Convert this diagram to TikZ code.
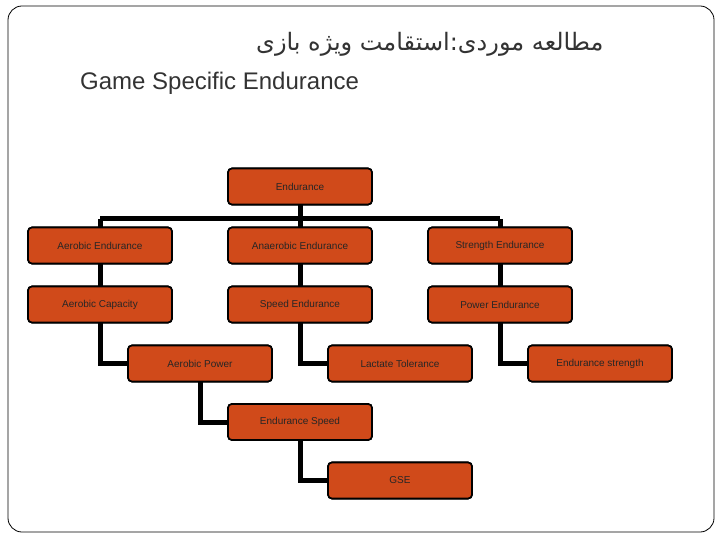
\documentclass[tikz,border=0pt]{standalone}
\usepackage{fontspec}
\setmainfont{Liberation Sans}
\newfontfamily\arabicfont[Script=Arabic]{DejaVu Sans}
\TeXXeTstate=1
\definecolor{boxfill}{HTML}{D04A1A}
\definecolor{titlec}{HTML}{333333}
\begin{document}
\begin{tikzpicture}[x=1pt,y=-1pt,
  bx/.style={draw=black,line width=1.6pt,fill=boxfill,rounded corners=4pt,minimum width=144pt,minimum height=36pt,inner sep=0pt,font=\fontsize{10}{12}\selectfont,text=black!85},
  ln/.style={line width=5pt}]
\useasboundingbox (0,0) rectangle (720,540);
\draw[line width=0.8pt,rounded corners=14pt] (8,6) rectangle (714,532);
\node[anchor=east,text=titlec,font=\arabicfont\fontsize{24}{28}\selectfont] (t1) at (607,44) {\beginR مطالعه موردی:استقامت ویژه بازی\endR};
\node[anchor=west,text=titlec,font=\fontsize{24}{28}\selectfont,inner sep=0pt] (t2) at (80,83) {Game Specific Endurance};
\coordinate (bar) at (300,219);
\coordinate (barl) at (100,219);
\coordinate (barr) at (500,219);
\node[bx] (e) at (300,186.5) {Endurance};
\node[bx] (ae) at (100,245.5) {Aerobic Endurance};
\node[bx] (an) at (300,245.5) {Anaerobic Endurance};
\node[bx] (se) at (500,245.5) {Strength Endurance};
\node[bx] (ac) at (100,304.5) {Aerobic Capacity};
\node[bx] (sp) at (300,304.5) {Speed Endurance};
\node[bx] (pe) at (500,304.5) {Power Endurance};
\node[bx] (ap) at (200,363.5) {Aerobic Power};
\node[bx] (lt) at (400,363.5) {Lactate Tolerance};
\node[bx] (es) at (600,363.5) {Endurance strength};
\node[bx] (spd) at (300,422) {Endurance Speed};
\node[bx] (gse) at (400,480.5) {GSE};
\begin{scope}[on background layer/.style={}]
\end{scope}
\begin{pgfonlayer}{main}\end{pgfonlayer}
\draw[ln] (e.south) -- (bar);
\draw[ln] (barl) -- (barr);
\draw[ln] (barl) -- (ae.north);
\draw[ln] (bar) -- (an.north);
\draw[ln] (barr) -- (se.north);
\draw[ln] (ae) -- (ac);
\draw[ln] (an) -- (sp);
\draw[ln] (se) -- (pe);
\draw[ln] (ac.south) |- (ap.west);
\draw[ln] (sp.south) |- (lt.west);
\draw[ln] (pe.south) |- (es.west);
\draw[ln] (ap.south) |- (spd.west);
\draw[ln] (spd.south) |- (gse.west);
\foreach \n in {e,ae,an,se,ac,sp,pe,ap,lt,es,spd,gse}{\node[bx] at (\n) {};}
\node[bx] at (e) {Endurance};
\node[bx] at (ae) {Aerobic Endurance};
\node[bx] at (an) {Anaerobic Endurance};
\node[bx] at (se) {Strength Endurance};
\node[bx] at (ac) {Aerobic Capacity};
\node[bx] at (sp) {Speed Endurance};
\node[bx] at (pe) {Power Endurance};
\node[bx] at (ap) {Aerobic Power};
\node[bx] at (lt) {Lactate Tolerance};
\node[bx] at (es) {Endurance strength};
\node[bx] at (spd) {Endurance Speed};
\node[bx] at (gse) {GSE};
\end{tikzpicture}
\end{document}
